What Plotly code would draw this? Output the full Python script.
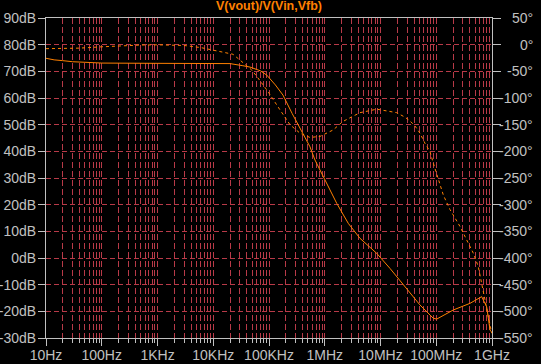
import plotly.graph_objects as go

# ---- data ----
mag_freq_hz = [10, 14, 20, 30, 50, 100, 1000, 10000, 20000, 34000, 45600, 70000, 91000,
               130000, 178000, 260000, 360000, 543000, 668000, 1.01e6, 1.64e6, 2.64e6,
               4.28e6, 8.55e6, 1.48e7, 5.1e7, 8.85e7, 1.02e8, 2.02e8, 4.03e8, 6.53e8,
               8.03e8, 8.59e8, 9.21e8, 1e9]
mag_db = [74.9, 74.3, 74.0, 73.6, 73.4, 73.1, 73.0, 73.0, 72.9, 72.1, 71.6, 70.2, 68.6,
          64.9, 61.1, 54.2, 48.6, 41.7, 36.75, 29.25, 20.5, 13.0,
          7.4, 1.75, -3.9, -17.6, -22.6, -22.9, -19.5, -17.0, -14.5,
          -18.3, -22.0, -27.0, -28.0]

phase_freq_hz = [10, 20, 40, 100, 200, 500, 1000, 3000, 6000, 9900, 22600, 30200, 49000,
                 63500, 96000, 157000, 238000, 360000, 543000, 822000, 1.41e6, 2.12e6,
                 4.28e6, 8.55e6, 1.95e7, 2.75e7, 3.38e7, 4.16e7, 5.11e7, 6.28e7, 7.73e7,
                 8.85e7, 1.09e8, 1.34e8, 1.76e8, 2.17e8, 2.67e8, 3.51e8, 4.62e8, 5.67e8,
                 6.53e8, 7.18e8, 8.03e8, 9.21e8, 9.89e8]
phase_deg = [-7.5, -7.0, -6.5, -4.0, -2.0, -0.7, -0.3, -1.5, -5.5, -10.0, -18.0, -29.0, -47.5,
             -62.5, -88.0, -122.0, -150.0, -166.0, -174.0, -172.0, -160.0, -144.0,
             -127.5, -121.0, -127.5, -136.0, -143.0, -152.5, -166.0, -185.0, -200.7,
             -222.0, -250.6, -282.0, -309.0, -325.0, -341.0, -366.0, -391.0, -416.0,
             -447.0, -472.0, -497.5, -529.0, -541.0]

x_tick_vals = [1e1, 1e2, 1e3, 1e4, 1e5, 1e6, 1e7, 1e8, 1e9]
x_tick_text = ["10Hz", "100Hz", "1KHz", "10KHz", "100KHz", "1MHz", "10MHz", "100MHz", "1GHz"]
db_tick_vals = [90, 80, 70, 60, 50, 40, 30, 20, 10, 0, -10, -20, -30]
db_tick_text = ["90dB", "80dB", "70dB", "60dB", "50dB", "40dB", "30dB", "20dB", "10dB",
                "0dB", "-10dB", "-20dB", "-30dB"]
deg_tick_vals = [50, 0, -50, -100, -150, -200, -250, -300, -350, -400, -450, -500, -550]
deg_tick_text = ["50°", "0°", "-50°", "-100°", "-150°", "-200°", "-250°", "-300°",
                 "-350°", "-400°", "-450°", "-500°", "-550°"]

title_text = "V(vout)/V(Vin,Vfb)"

# ---- styling ----
ORANGE = "#ff8000"
GRAY = "#c0c0c0"
GRID = "#b83a48"
FONT = "Liberation Sans"

minor_vals = [m * 10 ** k for k in range(1, 9) for m in range(2, 10)]

fig = go.Figure()
fig.add_trace(go.Scatter(x=mag_freq_hz, y=mag_db, mode="lines",
                         line=dict(color=ORANGE, width=1), yaxis="y"))
fig.add_trace(go.Scatter(x=phase_freq_hz, y=phase_deg, mode="lines",
                         line=dict(color=ORANGE, width=1, dash="3px,3px"), yaxis="y2"))

annotations = [dict(text=title_text, x=0.5, xref="paper", y=1, yref="paper",
                    yanchor="bottom", yshift=3, showarrow=False,
                    font=dict(family=FONT, size=12.5, color=ORANGE, weight="bold"))]
for v, t in zip(deg_tick_vals, deg_tick_text):
    annotations.append(dict(text=t, x=1, xref="paper", y=v, yref="y2", xanchor="right",
                            xshift=42, showarrow=False, borderpad=0,
                            font=dict(family=FONT, size=14, color=GRAY)))

fig.update_layout(
    width=541, height=364,
    margin=dict(l=46, r=49, t=18, b=26, pad=0, autoexpand=False),
    paper_bgcolor="black", plot_bgcolor="black",
    showlegend=False,
    font=dict(family=FONT, size=14, color=GRAY),
    annotations=annotations,
    xaxis=dict(type="log", range=[1, 9], tickmode="array", tickvals=x_tick_vals,
               ticktext=x_tick_text, ticks="outside", ticklen=7, tickcolor=GRAY,
               ticklabelstandoff=-3,
               showline=True, linecolor=GRAY, linewidth=1, mirror=True, automargin=False,
               showgrid=True, gridcolor=GRID, griddash="6px,3px", gridwidth=1,
               zeroline=False, tickfont=dict(family=FONT, size=14, color=GRAY),
               minor=dict(tickmode="array", tickvals=minor_vals, ticks="outside",
                          ticklen=4, tickcolor=GRAY, showgrid=True, gridcolor=GRID,
                          griddash="6px,3px", gridwidth=1)),
    yaxis=dict(range=[-30, 90], tickmode="array", tickvals=db_tick_vals,
               ticktext=db_tick_text, ticks="outside", ticklen=7, tickcolor=GRAY,
               ticklabelstandoff=-1,
               showline=True, linecolor=GRAY, linewidth=1, automargin=False,
               showgrid=True, gridcolor=GRID, griddash="5px,3px", gridwidth=1,
               zeroline=False, tickfont=dict(family=FONT, size=14, color=GRAY)),
    yaxis2=dict(range=[-550, 50], overlaying="y", side="right", tickmode="array",
                tickvals=deg_tick_vals, showticklabels=False, ticks="outside",
                ticklen=8, tickcolor=GRAY, showline=True, linecolor=GRAY, linewidth=1,
                showgrid=False, zeroline=False, automargin=False),
)

fig.write_html("out.html", config={"displayModeBar": False},
               post_script="document.body.style.margin='0';document.body.style.padding='0';"
                           "document.body.style.overflow='hidden';")
